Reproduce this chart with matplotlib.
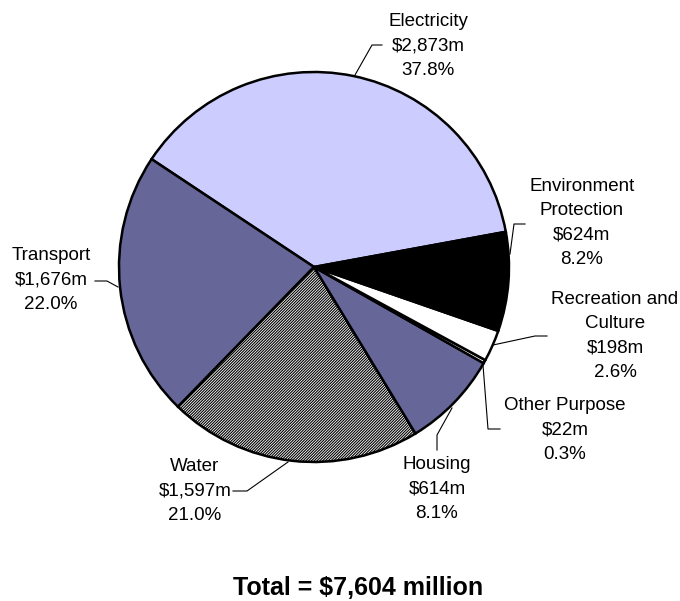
import matplotlib
matplotlib.use("Agg")
import matplotlib.pyplot as plt

plt.rcParams['font.family'] = ['Liberation Sans', 'DejaVu Sans']
plt.rcParams['hatch.linewidth'] = 0.8

# spending by purpose, $m (pie order, counter-clockwise from Electricity)
purposes = ['Electricity', 'Transport', 'Water', 'Housing',
            'Other Purpose', 'Recreation and\nCulture', 'Environment\nProtection']
amounts = [2873, 1676, 1597, 614, 22, 198, 624]
shares = [37.8, 22.0, 21.0, 8.1, 0.3, 2.6, 8.2]
total = 7604

colors = ['#ccccff', '#666699', 'white', '#666699', 'white', 'white', 'black']
hatches = [None, None, '////////////', None, None, None, None]

W, H = 680, 601


def py(y):
    # pixel row (from top) -> data y
    return H - y


fig = plt.figure(figsize=(6.8, 6.01), dpi=100)
ax = fig.add_axes([0, 0, 1, 1])

wedges, _ = ax.pie(amounts, colors=colors, startangle=10.4, counterclock=True,
                   center=(314, py(267)), radius=195,
                   wedgeprops=dict(edgecolor='black', linewidth=1.8))
for w, h in zip(wedges, hatches):
    if h:
        w.set_hatch(h)

ax.set_xlim(0, W)
ax.set_ylim(0, H)
ax.set_aspect('equal')
ax.axis('off')

# label block centres and leader lines (pixels from top-left)
label_pos = [(428, 46), (51, 280), (195, 491), (437, 489),
             (565, 430), (615, 336), (582, 223)]
leaders = [
    [(382, 45), (372, 45), (355, 75)],
    [(95, 281), (107, 281), (118, 287)],
    [(233, 491), (247, 491), (288, 462)],
    [(437, 450), (437, 435), (452, 408)],
    [(500, 429), (488, 429), (483, 365)],
    [(547, 336), (535, 336), (493, 345)],
    [(525, 224), (514, 224), (510, 254)],
]

for name, amt, pct, (x, y), pts in zip(purposes, amounts, shares, label_pos, leaders):
    txt = f"{name}\n${amt:,}m\n{pct:.1f}%"
    ax.text(x, py(y), txt, ha='center', va='center', fontsize=13.5,
            linespacing=1.55)
    ax.plot([p[0] for p in pts], [py(p[1]) for p in pts], color='black', lw=0.8)

ax.text(358, py(588), f"Total = ${total:,} million", ha='center', va='center',
        fontsize=18, fontweight='bold')

fig.savefig("out.png", dpi=100)
